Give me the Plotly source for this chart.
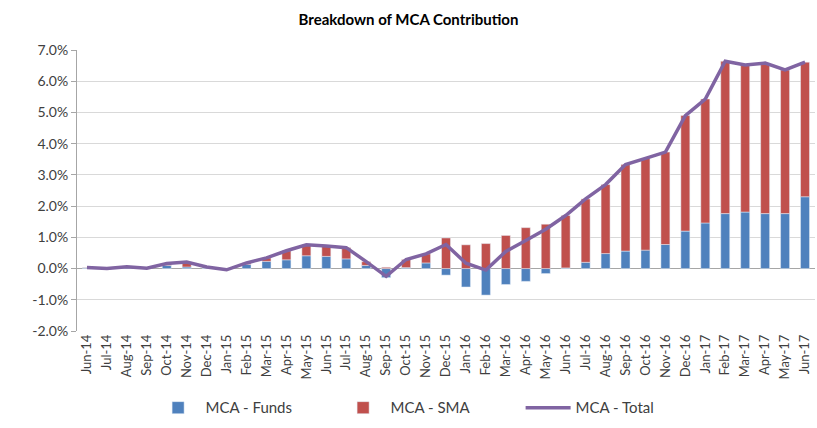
import plotly.graph_objects as go

months = ["Jun-14","Jul-14","Aug-14","Sep-14","Oct-14","Nov-14","Dec-14","Jan-15","Feb-15","Mar-15",
          "Apr-15","May-15","Jun-15","Jul-15","Aug-15","Sep-15","Oct-15","Nov-15","Dec-15","Jan-16",
          "Feb-16","Mar-16","Apr-16","May-16","Jun-16","Jul-16","Aug-16","Sep-16","Oct-16","Nov-16",
          "Dec-16","Jan-17","Feb-17","Mar-17","Apr-17","May-17","Jun-17"]

mca_funds = [0.02, 0.00, 0.03, 0.01, 0.10, 0.05, 0.02, -0.03, 0.13, 0.23,
             0.28, 0.41, 0.39, 0.31, 0.10, -0.29, 0.03, 0.18, -0.21, -0.59,
             -0.85, -0.51, -0.41, -0.16, 0.02, 0.20, 0.48, 0.56, 0.59, 0.77,
             1.20, 1.46, 1.76, 1.81, 1.76, 1.76, 2.30]

mca_sma = [0.01, 0.00, 0.03, 0.00, 0.06, 0.16, 0.03, -0.01, 0.05, 0.11,
           0.29, 0.35, 0.33, 0.36, 0.12, 0.04, 0.26, 0.29, 0.98, 0.76,
           0.80, 1.06, 1.31, 1.42, 1.68, 2.03, 2.21, 2.77, 2.94, 2.96,
           3.70, 3.97, 4.88, 4.71, 4.82, 4.60, 4.31]

mca_total = [0.03, 0.00, 0.06, 0.01, 0.16, 0.21, 0.05, -0.04, 0.18, 0.34,
             0.57, 0.76, 0.72, 0.67, 0.22, -0.25, 0.29, 0.47, 0.77, 0.17,
             -0.05, 0.55, 0.90, 1.26, 1.70, 2.23, 2.69, 3.33, 3.53, 3.73,
             4.90, 5.43, 6.64, 6.52, 6.58, 6.36, 6.61]

y_ticks = [-2, -1, 0, 1, 2, 3, 4, 5, 6, 7]
y_tick_labels = ["-2.0%", "-1.0%", "0.0%", "1.0%", "2.0%", "3.0%", "4.0%", "5.0%", "6.0%", "7.0%"]

FONT = "Lato, 'Open Sans', sans-serif"

fig = go.Figure()
fig.add_trace(go.Bar(x=months, y=mca_funds, name="MCA - Funds", marker_color="#4F81BD"))
fig.add_trace(go.Bar(x=months, y=mca_sma, name="MCA - SMA", marker_color="#C0504D"))
fig.add_trace(go.Scatter(x=months, y=mca_total, name="MCA - Total", mode="lines",
                         line=dict(color="#8064A2", width=3.5)))

fig.update_layout(
    width=817, height=428,
    margin=dict(l=77, r=2, t=50, b=97),
    paper_bgcolor="white", plot_bgcolor="white",
    barmode="relative", bargap=0.55,
    font=dict(family=FONT, size=13, color="#404040"),
    title=dict(text="<b>Breakdown of MCA Contribution</b>", x=0.5, xanchor="center",
               y=0.955, yref="container", yanchor="middle",
               font=dict(family=FONT, size=15, color="#000000")),
    showlegend=True,
    legend=dict(orientation="h", x=0.524, xanchor="center", xref="container",
                y=0.047, yanchor="middle", yref="container",
                entrywidth=125, itemwidth=45,
                font=dict(size=15, color="#404040"), traceorder="normal"),
    xaxis=dict(tickangle=-90, tickfont=dict(size=13, color="#404040"), showgrid=False,
               showline=False, ticks="", automargin=False, range=[-0.5, 36.5]),
    yaxis=dict(range=[-2, 7], tickvals=y_ticks, ticktext=y_tick_labels, automargin=False,
               showgrid=True, gridcolor="#D9D9D9", gridwidth=1,
               showline=True, linecolor="#A6A6A6", ticks="outside", ticklen=5,
               tickcolor="#A6A6A6", zeroline=True, zerolinecolor="#A6A6A6", zerolinewidth=1,
               tickfont=dict(size=14, color="#404040")),
)

fig.write_html("out.html", config={"displayModeBar": False},
               post_script="document.body.style.margin='0px';document.body.style.overflow='hidden';")
